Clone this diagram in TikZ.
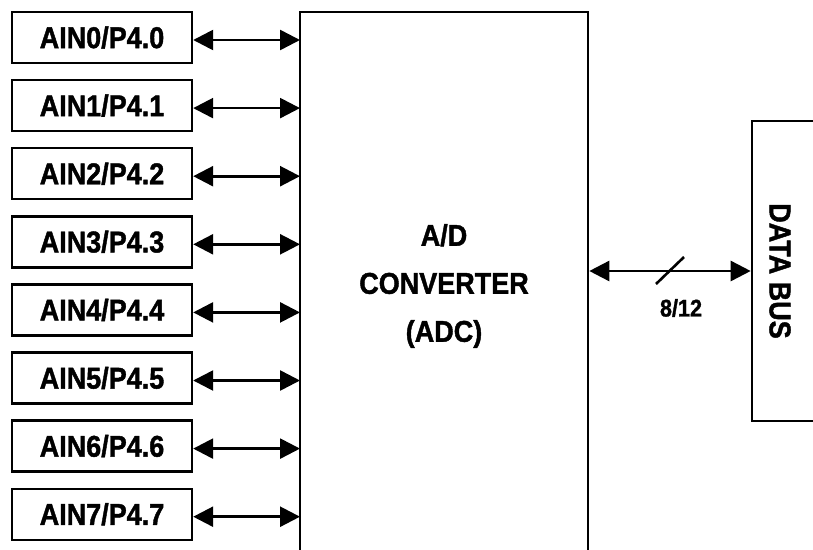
\documentclass[tikz,border=0pt]{standalone}
\usepackage{fontspec}
\setmainfont[BoldFeatures={FakeBold=1.5}]{Liberation Sans}
\usetikzlibrary{arrows.meta}
\newcommand{\sq}[1]{\scalebox{0.9}[1]{#1}}
\begin{document}
\begin{tikzpicture}[x=1pt,y=-1pt,
  line width=2.6pt,
  pin/.style={draw,line width=2.4pt,minimum width=180pt,minimum height=51pt,inner sep=0pt,font=\fontsize{30}{32}\selectfont\bfseries},
  dbl/.style={{Triangle[length=20pt,width=20pt]}-{Triangle[length=20pt,width=20pt]},line width=2.6pt},
  lbl/.style={font=\fontsize{30}{32}\selectfont\bfseries,inner sep=0pt}]
\useasboundingbox (0,0) rectangle (813,549);
\clip (0,0) rectangle (813,549);
\node[draw,line width=2.6pt,minimum width=288pt,minimum height=600pt,inner sep=0pt] (adc) at (444,312) {};
\node[draw,line width=2.6pt,minimum width=140pt,minimum height=300pt,inner sep=0pt] (db) at (822,271) {};
\foreach \i in {0,...,7}{
  \pgfmathsetmacro{\yy}{37.5+68.1*\i}
  \node[pin] (b\i) at (102,\yy) {\sq{AIN\i/P4.\i}};
  \coordinate (a\i) at (300,\yy+2.5);
  \draw[dbl] (b\i.east |- a\i) -- (a\i);
}
\node[lbl,align=center,font=\fontsize{30}{48}\selectfont\bfseries] (t) at (444,286) {\sq{A/D}\\\sq{CONVERTER}\\\sq{(ADC)}};
\node[lbl,rotate=-90] (dbt) at (780,271) {\sq{DATA BUS}};
\coordinate (bs) at (adc.east |- db.west);
\draw[dbl] (bs) -- (db.west);
\coordinate (s1) at (656,284);
\coordinate (s2) at (684,257);
\draw[line width=2.6pt] (s1) -- (s2);
\node[inner sep=0pt,font=\fontsize{24}{26}\selectfont\bfseries] (w) at (681,308) {\sq{8/12}};
\end{tikzpicture}
\end{document}
